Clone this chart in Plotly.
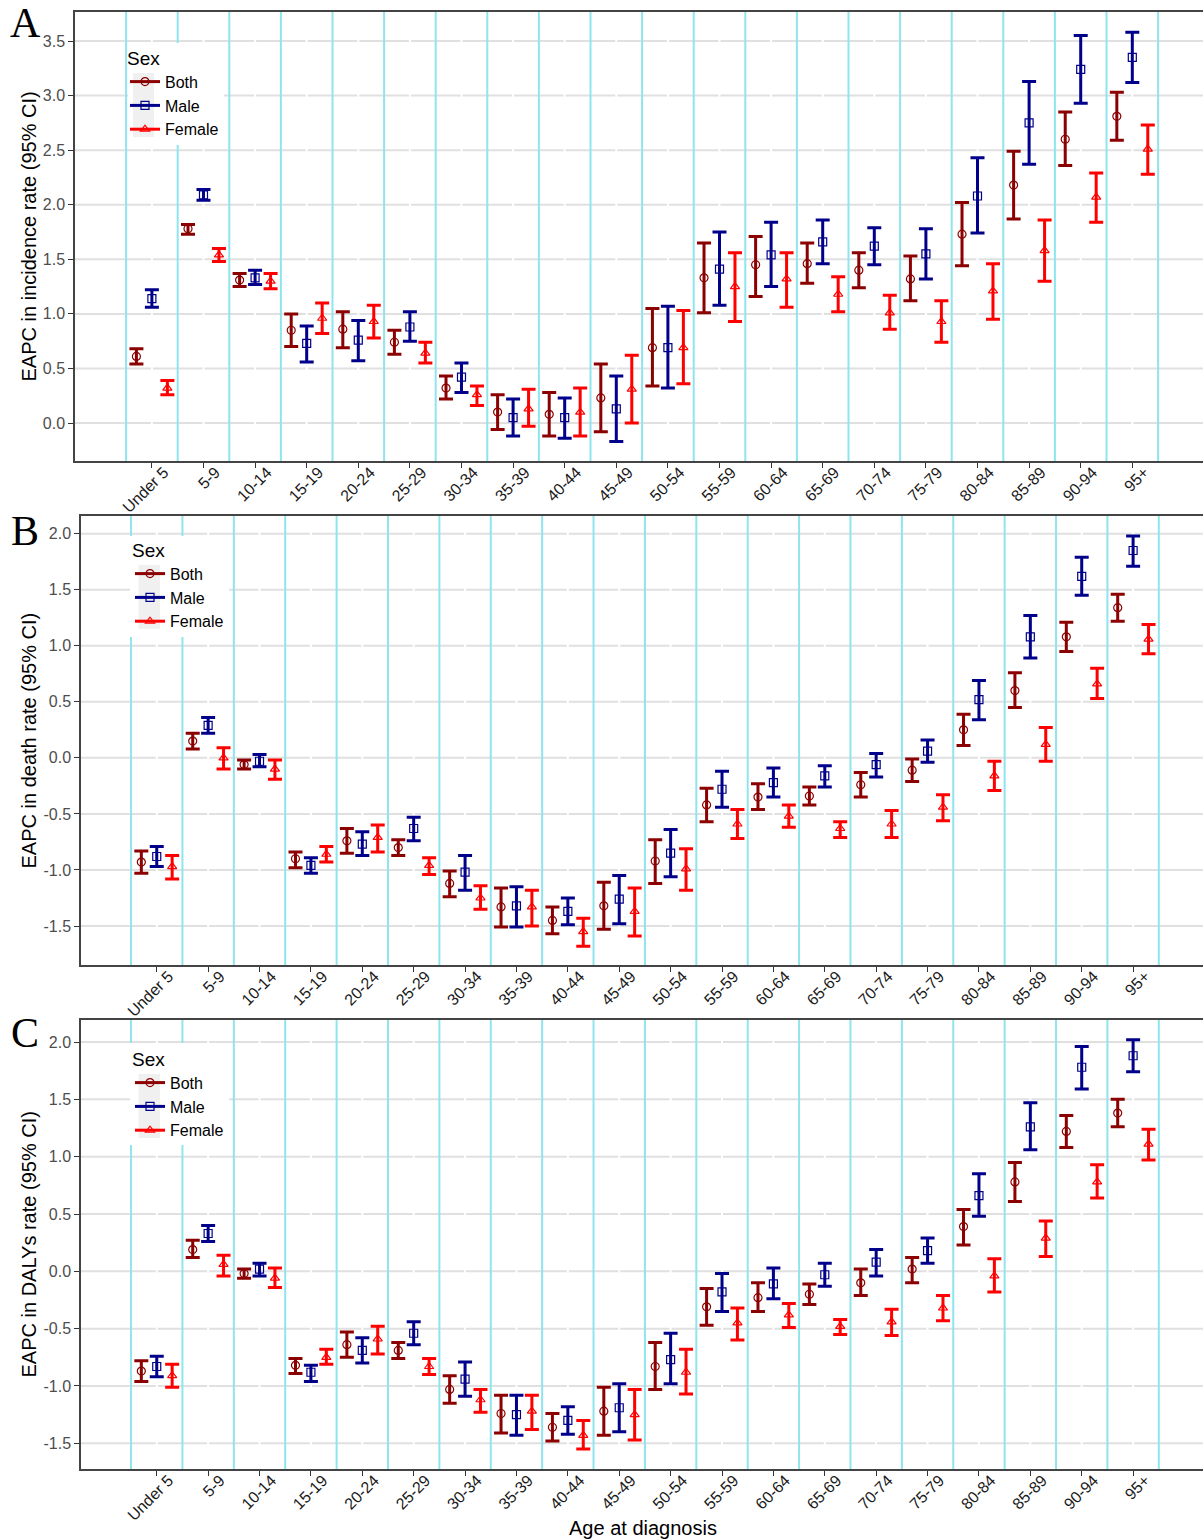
import plotly.graph_objects as go

# ---------------- data ----------------
age_groups = ["Under 5", "5-9", "10-14", "15-19", "20-24", "25-29", "30-34", "35-39",
              "40-44", "45-49", "50-54", "55-59", "60-64", "65-69", "70-74", "75-79",
              "80-84", "85-89", "90-94", "95+"]
sexes = ["Both", "Male", "Female"]

# Panel A: EAPC in incidence rate
inc_both = [0.61, 1.78, 1.31, 0.85, 0.86, 0.74, 0.32, 0.10, 0.08, 0.23, 0.69, 1.33, 1.45, 1.46, 1.40, 1.32, 1.73, 2.18, 2.60, 2.81]
inc_both_lo = [0.54, 1.73, 1.25, 0.70, 0.69, 0.63, 0.22, -0.06, -0.12, -0.08, 0.34, 1.01, 1.16, 1.28, 1.24, 1.12, 1.44, 1.87, 2.36, 2.59]
inc_both_hi = [0.68, 1.82, 1.37, 1.00, 1.02, 0.85, 0.43, 0.26, 0.28, 0.54, 1.05, 1.65, 1.71, 1.65, 1.56, 1.53, 2.02, 2.49, 2.85, 3.03]
inc_male = [1.14, 2.09, 1.33, 0.73, 0.76, 0.88, 0.42, 0.05, 0.05, 0.13, 0.69, 1.41, 1.54, 1.66, 1.62, 1.55, 2.08, 2.75, 3.24, 3.35]
inc_male_lo = [1.06, 2.04, 1.27, 0.56, 0.57, 0.75, 0.28, -0.12, -0.14, -0.17, 0.32, 1.08, 1.25, 1.46, 1.45, 1.32, 1.74, 2.37, 2.93, 3.12]
inc_male_hi = [1.22, 2.14, 1.40, 0.89, 0.94, 1.02, 0.55, 0.22, 0.23, 0.43, 1.07, 1.75, 1.84, 1.86, 1.79, 1.78, 2.43, 3.13, 3.55, 3.58]
inc_fem = [0.32, 1.54, 1.30, 0.96, 0.93, 0.64, 0.26, 0.13, 0.10, 0.31, 0.69, 1.25, 1.32, 1.18, 1.01, 0.93, 1.21, 1.58, 2.07, 2.51]
inc_fem_lo = [0.26, 1.48, 1.23, 0.82, 0.78, 0.55, 0.16, -0.03, -0.12, 0.00, 0.36, 0.93, 1.06, 1.02, 0.86, 0.74, 0.95, 1.30, 1.84, 2.28]
inc_fem_hi = [0.39, 1.60, 1.37, 1.10, 1.08, 0.74, 0.34, 0.31, 0.32, 0.62, 1.03, 1.56, 1.56, 1.34, 1.17, 1.12, 1.46, 1.86, 2.29, 2.73]

# Panel B: EAPC in death rate
dth_both = [-0.93, 0.15, -0.06, -0.90, -0.74, -0.80, -1.12, -1.33, -1.45, -1.32, -0.92, -0.42, -0.35, -0.34, -0.24, -0.11, 0.25, 0.60, 1.08, 1.34]
dth_both_lo = [-1.03, 0.08, -0.10, -0.98, -0.85, -0.87, -1.24, -1.51, -1.57, -1.53, -1.12, -0.57, -0.46, -0.42, -0.35, -0.21, 0.11, 0.45, 0.95, 1.22]
dth_both_hi = [-0.83, 0.22, -0.02, -0.84, -0.63, -0.73, -1.01, -1.16, -1.33, -1.11, -0.73, -0.27, -0.23, -0.26, -0.13, -0.01, 0.39, 0.76, 1.21, 1.46]
dth_male = [-0.88, 0.29, -0.03, -0.96, -0.77, -0.63, -1.02, -1.32, -1.37, -1.26, -0.85, -0.28, -0.22, -0.16, -0.06, 0.06, 0.52, 1.08, 1.62, 1.85]
dth_male_lo = [-0.97, 0.22, -0.08, -1.03, -0.87, -0.74, -1.18, -1.51, -1.49, -1.48, -1.06, -0.44, -0.35, -0.26, -0.17, -0.04, 0.34, 0.89, 1.45, 1.71]
dth_male_hi = [-0.79, 0.36, 0.03, -0.89, -0.66, -0.53, -0.87, -1.15, -1.25, -1.05, -0.64, -0.12, -0.09, -0.07, 0.04, 0.16, 0.69, 1.27, 1.79, 1.98]
dth_fem = [-0.97, 0.00, -0.10, -0.86, -0.71, -0.96, -1.25, -1.33, -1.55, -1.37, -0.99, -0.59, -0.52, -0.63, -0.59, -0.44, -0.16, 0.12, 0.66, 1.06]
dth_fem_lo = [-1.08, -0.10, -0.19, -0.93, -0.84, -1.04, -1.35, -1.50, -1.68, -1.59, -1.18, -0.72, -0.62, -0.71, -0.71, -0.56, -0.29, -0.03, 0.53, 0.93]
dth_fem_hi = [-0.87, 0.09, -0.02, -0.79, -0.60, -0.89, -1.14, -1.18, -1.43, -1.16, -0.81, -0.46, -0.42, -0.57, -0.47, -0.33, -0.03, 0.27, 0.80, 1.19]

# Panel C: EAPC in DALYs rate
daly_both = [-0.87, 0.19, -0.02, -0.82, -0.64, -0.69, -1.03, -1.24, -1.36, -1.22, -0.83, -0.31, -0.23, -0.20, -0.10, 0.02, 0.39, 0.78, 1.22, 1.38]
daly_both_lo = [-0.96, 0.12, -0.06, -0.89, -0.75, -0.76, -1.15, -1.41, -1.48, -1.43, -1.03, -0.47, -0.35, -0.29, -0.21, -0.10, 0.23, 0.61, 1.08, 1.26]
daly_both_hi = [-0.78, 0.27, 0.02, -0.76, -0.53, -0.62, -0.91, -1.08, -1.24, -1.01, -0.62, -0.15, -0.10, -0.11, 0.02, 0.12, 0.54, 0.95, 1.36, 1.50]
daly_male = [-0.83, 0.33, 0.02, -0.88, -0.69, -0.54, -0.94, -1.25, -1.30, -1.19, -0.77, -0.18, -0.11, -0.03, 0.08, 0.18, 0.66, 1.26, 1.78, 1.88]
daly_male_lo = [-0.92, 0.26, -0.04, -0.96, -0.80, -0.64, -1.09, -1.43, -1.42, -1.40, -0.98, -0.35, -0.24, -0.13, -0.04, 0.07, 0.48, 1.06, 1.59, 1.74]
daly_male_hi = [-0.74, 0.40, 0.07, -0.82, -0.58, -0.44, -0.79, -1.08, -1.18, -0.98, -0.54, -0.02, 0.03, 0.07, 0.19, 0.29, 0.85, 1.47, 1.96, 2.02]
daly_fem = [-0.91, 0.06, -0.06, -0.75, -0.59, -0.83, -1.12, -1.22, -1.43, -1.25, -0.88, -0.45, -0.38, -0.48, -0.44, -0.32, -0.04, 0.29, 0.78, 1.11]
daly_fem_lo = [-1.01, -0.04, -0.14, -0.81, -0.72, -0.90, -1.23, -1.38, -1.55, -1.47, -1.07, -0.60, -0.49, -0.55, -0.56, -0.43, -0.18, 0.13, 0.64, 0.97]
daly_fem_hi = [-0.81, 0.14, 0.03, -0.68, -0.48, -0.76, -1.03, -1.08, -1.30, -1.03, -0.68, -0.32, -0.28, -0.42, -0.33, -0.21, 0.11, 0.44, 0.93, 1.24]

ytick_A = [0.0, 0.5, 1.0, 1.5, 2.0, 2.5, 3.0, 3.5]
ytick_BC = [-1.5, -1.0, -0.5, 0.0, 0.5, 1.0, 1.5, 2.0]

# ---------------- styling / layout ----------------
W, H = 1203, 1540
FONT = "Liberation Sans, Arial, sans-serif"
colors = {"Both": "#8B0000", "Male": "#00008B", "Female": "#FF0000"}
symbols = {"Both": "circle-open", "Male": "square-open", "Female": "triangle-up-open"}
dodge = {"Both": -0.3, "Male": 0.0, "Female": 0.3}


def fx(p):
    return p / W


def fy(p):
    return 1 - p / H


panels = [
    dict(label="A", title="EAPC in incidence rate (95% CI)",
         series={"Both": (inc_both, inc_both_lo, inc_both_hi),
                 "Male": (inc_male, inc_male_lo, inc_male_hi),
                 "Female": (inc_fem, inc_fem_lo, inc_fem_hi)},
         left=75, top=12, bottom=461, yrange=[-0.348, 3.766], xrange=[-1.49, 20.37],
         yticks=ytick_A, label_y=23, leg_x=125, leg_top=40,
         box=(128, 43, 224, 145), key=(133, 73, 154, 137)),
    dict(label="B", title="EAPC in death rate (95% CI)",
         series={"Both": (dth_both, dth_both_lo, dth_both_hi),
                 "Male": (dth_male, dth_male_lo, dth_male_hi),
                 "Female": (dth_fem, dth_fem_lo, dth_fem_hi)},
         left=81, top=516, bottom=965, yrange=[-1.848, 2.158], xrange=[-1.474, 20.36],
         yticks=ytick_BC, label_y=530.5, leg_x=130, leg_top=532,
         box=(130, 536, 229, 637), key=(138.5, 565, 160, 629)),
    dict(label="C", title="EAPC in DALYs rate (95% CI)",
         series={"Both": (daly_both, daly_both_lo, daly_both_hi),
                 "Male": (daly_male, daly_male_lo, daly_male_hi),
                 "Female": (daly_fem, daly_fem_lo, daly_fem_hi)},
         left=81, top=1020, bottom=1469, yrange=[-1.724, 2.192], xrange=[-1.474, 20.36],
         yticks=ytick_BC, label_y=1032.5, leg_x=130, leg_top=1041,
         box=(130, 1043, 229, 1145), key=(138.5, 1074, 160, 1138)),
]

fig = go.Figure()
shapes = []
annotations = []
layout_axes = {}

for k, p in enumerate(panels):
    sfx = "" if k == 0 else str(k + 1)
    xref, yref = "x" + sfx, "y" + sfx
    legname = "legend" + sfx
    n = len(age_groups)

    for sex in sexes:
        v, lo, hi = p["series"][sex]
        fig.add_trace(go.Scatter(
            x=[i + dodge[sex] for i in range(n)], y=v,
            mode="markers", name=sex, showlegend=False,
            marker=dict(symbol=symbols[sex], size=8, color=colors[sex], line=dict(width=1.2)),
            error_y=dict(type="data", symmetric=False,
                         array=[h - c for h, c in zip(hi, v)],
                         arrayminus=[c - l for c, l in zip(v, lo)],
                         color=colors[sex], thickness=3, width=7),
            xaxis=xref, yaxis=yref, hoverinfo="skip"))
    # legend entries
    for sex in sexes:
        fig.add_trace(go.Scatter(
            x=[None], y=[None], mode="lines+markers", name=sex,
            line=dict(color=colors[sex], width=3),
            marker=dict(symbol=symbols[sex], size=8, color=colors[sex], line=dict(width=1.2)),
            xaxis=xref, yaxis=yref, legend=legname, showlegend=True))

    layout_axes["xaxis" + sfx] = dict(
        domain=[fx(p["left"]), 1.0], range=p["xrange"], anchor=yref,
        tickvals=list(range(n)), ticktext=age_groups, tickangle=-45,
        tickfont=dict(family=FONT, size=16, color="#1a1a1a"),
        ticks="outside", ticklen=5, tickwidth=1.3, tickcolor="#333333",
        ticklabelshift=12, ticklabelstandoff=-11,
        showgrid=False, zeroline=False, showline=True, linecolor="#444444",
        linewidth=1.5, mirror=True)
    layout_axes["yaxis" + sfx] = dict(
        domain=[fy(p["bottom"]), fy(p["top"])], range=p["yrange"], anchor=xref,
        tickvals=p["yticks"], ticktext=[f"{t:.1f}" for t in p["yticks"]],
        tickfont=dict(family=FONT, size=16, color="#4d4d4d"),
        ticks="outside", ticklen=5, tickwidth=1.3, tickcolor="#333333",
        showgrid=False, zeroline=False,
        showline=True, linecolor="#444444", linewidth=1.5, mirror=False)

    # horizontal grey grid at y ticks
    for t in p["yticks"]:
        shapes.append(dict(type="line", xref=xref + " domain", yref=yref, x0=0, x1=1, y0=t, y1=t,
                           line=dict(color="#e0e0e0", width=2), layer="below"))
    # white vertical grid at category centres
    for i in range(n):
        shapes.append(dict(type="line", xref=xref, yref=yref + " domain", x0=i, x1=i, y0=0, y1=1,
                           line=dict(color="white", width=2), layer="below"))
    # cyan separators between age groups
    for i in range(n + 1):
        shapes.append(dict(type="line", xref=xref, yref=yref + " domain", x0=i - 0.5, x1=i - 0.5,
                           y0=0, y1=1, line=dict(color="#8ee5ee", width=2), layer="below"))

    # legend background box and key background
    bx0, by0, bx1, by1 = p["box"]
    shapes.append(dict(type="rect", xref="paper", yref="paper", x0=fx(bx0), x1=fx(bx1),
                       y0=fy(by1), y1=fy(by0), fillcolor="white", line=dict(width=0), layer="above"))
    kx0, ky0, kx1, ky1 = p["key"]
    shapes.append(dict(type="rect", xref="paper", yref="paper", x0=fx(kx0), x1=fx(kx1),
                       y0=fy(ky1), y1=fy(ky0), fillcolor="#f0f0f0", line=dict(width=0), layer="above"))

    layout_axes[legname] = dict(
        x=fx(p["leg_x"]), y=fy(p["leg_top"]), xanchor="left", yanchor="top",
        bgcolor="rgba(0,0,0,0)", borderwidth=0,
        title=dict(text="Sex", font=dict(family=FONT, size=19, color="black")),
        font=dict(family=FONT, size=16, color="black"), tracegroupgap=0)

    # panel label
    annotations.append(dict(text=p["label"], xref="paper", yref="paper", x=fx(25), y=fy(p["label_y"]),
                            xanchor="center", yanchor="middle", showarrow=False,
                            font=dict(family="Liberation Serif, Times New Roman, serif", size=42, color="black")))
    # y-axis title
    annotations.append(dict(text=p["title"], xref="paper", yref="paper", x=fx(28),
                            y=fy((p["top"] + p["bottom"]) / 2), xanchor="center", yanchor="middle",
                            textangle=-90, showarrow=False,
                            font=dict(family=FONT, size=20, color="black")))

# x-axis title
annotations.append(dict(text="Age at diagnosis", xref="paper", yref="paper", x=fx(643), y=fy(1528),
                        xanchor="center", yanchor="middle", showarrow=False,
                        font=dict(family=FONT, size=20, color="black")))

fig.update_layout(
    width=W, height=H, margin=dict(l=0, r=0, t=0, b=0),
    paper_bgcolor="white", plot_bgcolor="white",
    shapes=shapes, annotations=annotations,
    font=dict(family=FONT), **layout_axes)

fig.write_html("out.html")
